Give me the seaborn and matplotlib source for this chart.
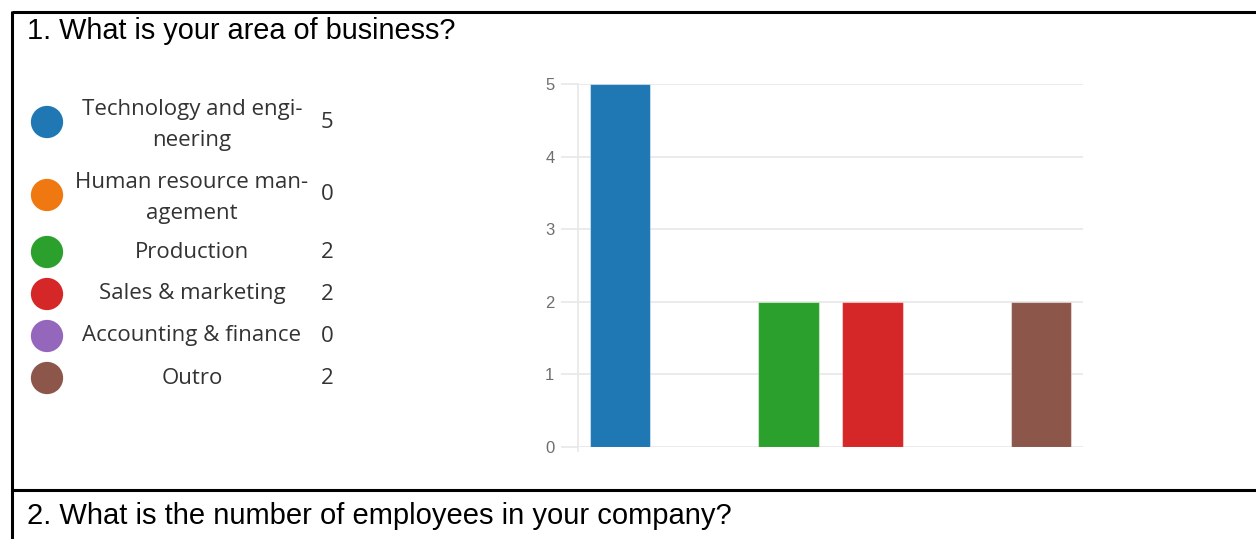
import matplotlib
matplotlib.use("Agg")
import matplotlib.pyplot as plt
import seaborn as sns
import pandas as pd

# Survey question 1: area of business
categories = ["Technology and engineering", "Human resource management", "Production",
              "Sales & marketing", "Accounting & finance", "Outro"]
legend_labels = ["Technology and engi-\nneering", "Human resource man-\nagement", "Production",
                 "Sales & marketing", "Accounting & finance", "Outro"]
counts = [5, 0, 2, 2, 0, 2]
colors = ["#1f77b4", "#f07810", "#2ca02c", "#d62728", "#9467bd", "#8c564b"]
y_ticks = [0, 1, 2, 3, 4, 5]

title_1 = "1. What is your area of business?"
title_2 = "2. What is the number of employees in your company?"

sns.set_theme(style="white")
plt.rcParams["font.family"] = ["Liberation Sans", "DejaVu Sans"]

W, H = 1256, 539
fig = plt.figure(figsize=(W / 100, H / 100), dpi=100)
fig.patch.set_facecolor("white")

def fx(px):
    return px / W

def fy(py):
    return 1 - py / H

# table frame lines
frame = fig.add_axes([0, 0, 1, 1], facecolor="none")
frame.set_xlim(0, W)
frame.set_ylim(H, 0)
frame.axis("off")
frame.plot([12, W + 5], [12, 12], color="black", lw=2.2, solid_capstyle="butt")
frame.plot([12, 12], [11, H + 5], color="black", lw=2.2, solid_capstyle="butt")
frame.plot([12, W + 5], [490, 490], color="black", lw=2.2, solid_capstyle="butt")

frame.text(27, 31, title_1, fontsize=20.8, color="black", va="center", ha="left",
           family=["Liberation Sans"])
frame.text(27, 516, title_2, fontsize=21.0, color="black", va="center", ha="left",
           family=["Liberation Sans"])

# legend with counts: marker row, label, value
leg_y = [122, 195, 252, 294, 336, 378]
for lab, val, col, yy in zip(legend_labels, counts, colors, leg_y):
    frame.scatter([47], [yy], s=540, color=col, edgecolors="none", zorder=3)
    ty = yy + 3 if "\n" in lab else yy
    frame.text(192, ty, lab, fontsize=16, color="#333333", ha="center", va="center",
               linespacing=1.65, family=["Open Sans", "DejaVu Sans"])
    frame.text(327, yy, str(val), fontsize=16, color="#333333", ha="center", va="center",
               family=["Open Sans", "DejaVu Sans"])

# bar chart
ax = fig.add_axes([fx(578), fy(447), fx(1083) - fx(578), fy(84) - fy(447)])
df = pd.DataFrame({"category": categories, "count": counts})
sns.barplot(data=df, x="category", y="count", hue="category", palette=colors,
            order=categories, hue_order=categories, width=0.72, legend=False,
            saturation=1, ax=ax, zorder=3)
for p in ax.patches:
    p.set_edgecolor((1, 1, 1, 0.45))
    p.set_linewidth(0.8)

ax.set_xlim(-0.5, 5.5)
ax.set_ylim(0, 5)
ax.set_yticks(y_ticks)
ax.set_xticks([])
ax.set_xlabel("")
ax.set_ylabel("")
ax.grid(axis="y", color="#e8e8e8", lw=1.2, zorder=0)
ax.tick_params(axis="y", length=12, width=1.2, color="#e8e8e8", labelsize=12,
               labelcolor="#6e6e6e", pad=5, left=True)
for s in ["top", "right", "bottom"]:
    ax.spines[s].set_visible(False)
ax.spines["left"].set_color("#e8e8e8")
ax.spines["left"].set_linewidth(1.2)
ax.spines["left"].set_bounds(-0.05, 5)
for t in ax.get_yticklabels():
    t.set_family(["Liberation Sans"])

fig.savefig("out.png", dpi=100, facecolor="white")
